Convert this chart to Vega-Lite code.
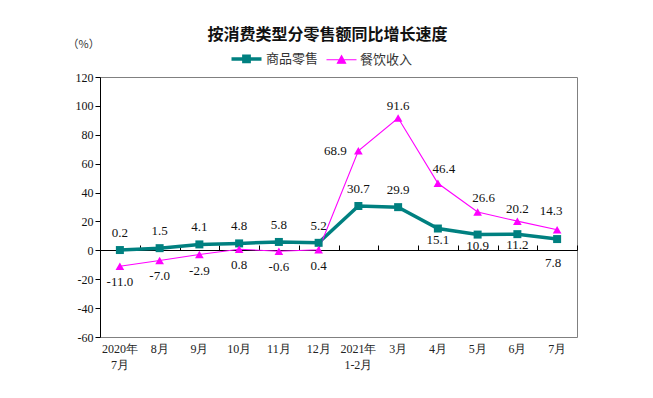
{
  "$schema": "https://vega.github.io/schema/vega-lite/v6.json",
  "width": 477,
  "height": 260,
  "autosize": {"type": "none"},
  "padding": {"left": 100, "top": 77, "right": 76, "bottom": 61},
  "background": "white",
  "config": {
    "view": {"stroke": "#808080", "strokeWidth": 1},
    "locale": {"number": {"decimal": ".", "thousands": ",", "grouping": [3], "currency": ["", ""], "minus": "-"}},
    "text": {"font": "Liberation Serif"}
  },
  "title": {
    "text": "按消费类型分零售额同比增长速度",
    "font": "Noto Sans CJK SC",
    "fontSize": 16,
    "fontWeight": "bold",
    "color": "#111",
    "anchor": "middle",
    "dx": -11,
    "offset": -5
  },
  "data": {
    "values": [
      {"m": "2020年|7月", "s": "商品零售", "v": 0.2},
      {"m": "8月", "s": "商品零售", "v": 1.5},
      {"m": "9月", "s": "商品零售", "v": 4.1},
      {"m": "10月", "s": "商品零售", "v": 4.8},
      {"m": "11月", "s": "商品零售", "v": 5.8},
      {"m": "12月", "s": "商品零售", "v": 5.2},
      {"m": "2021年|1-2月", "s": "商品零售", "v": 30.7},
      {"m": "3月", "s": "商品零售", "v": 29.9},
      {"m": "4月", "s": "商品零售", "v": 15.1},
      {"m": "5月", "s": "商品零售", "v": 10.9},
      {"m": "6月", "s": "商品零售", "v": 11.2},
      {"m": "7月", "s": "商品零售", "v": 7.8},
      {"m": "2020年|7月", "s": "餐饮收入", "v": -11.0},
      {"m": "8月", "s": "餐饮收入", "v": -7.0},
      {"m": "9月", "s": "餐饮收入", "v": -2.9},
      {"m": "10月", "s": "餐饮收入", "v": 0.8},
      {"m": "11月", "s": "餐饮收入", "v": -0.6},
      {"m": "12月", "s": "餐饮收入", "v": 0.4},
      {"m": "2021年|1-2月", "s": "餐饮收入", "v": 68.9},
      {"m": "3月", "s": "餐饮收入", "v": 91.6},
      {"m": "4月", "s": "餐饮收入", "v": 46.4},
      {"m": "5月", "s": "餐饮收入", "v": 26.6},
      {"m": "6月", "s": "餐饮收入", "v": 20.2},
      {"m": "7月", "s": "餐饮收入", "v": 14.3}
    ]
  },
  "encoding": {
    "x": {
      "field": "m",
      "type": "nominal",
      "sort": null,
      "scale": {"domain": ["2020年|7月", "8月", "9月", "10月", "11月", "12月", "2021年|1-2月", "3月", "4月", "5月", "6月", "7月"], "paddingInner": 0, "paddingOuter": 0}
    },
    "y": {
      "field": "v",
      "type": "quantitative",
      "scale": {"domain": [-60, 120], "nice": false, "zero": false},
      "axis": {
        "values": [-60, -40, -20, 0, 20, 40, 60, 80, 100, 120],
        "grid": false,
        "domainColor": "#000",
        "tickColor": "#000",
        "tickSize": 5,
        "labelPadding": 2,
        "labelFont": "Liberation Serif",
        "labelFontSize": 12,
        "labelColor": "#111",
        "title": "（%）",
        "titleAngle": 0,
        "titleAlign": "left",
        "titleBaseline": "middle",
        "titleX": -33,
        "titleY": -33,
        "titleFont": "Noto Sans CJK SC",
        "titleFontSize": 11,
        "titleFontWeight": "normal",
        "titleColor": "#333"
      }
    }
  },
  "resolve": {"axis": {"x": "independent"}},
  "layer": [
    {
      "mark": {"type": "line"},
      "encoding": {
        "x": {
          "field": "m", "type": "nominal", "sort": null,
          "axis": {
            "orient": "bottom",
            "title": null,
            "labelAngle": 0,
            "labelExpr": "split(datum.value, '|')",
            "ticks": false,
            "domain": false,
            "labelPadding": 6,
            "labelBaseline": "top",
            "labelLineHeight": 16,
            "labelFont": "Liberation Serif",
            "labelFontSize": 12,
            "labelColor": "#222"
          }
        },
        "color": {
          "field": "s", "type": "nominal",
          "scale": {"domain": ["商品零售", "餐饮收入"], "range": ["#008080", "#ff00ff"]},
          "legend": {
            "orient": "none",
            "legendX": 137,
            "legendY": -28,
            "direction": "horizontal",
            "title": null,
            "symbolSize": 225,
            "labelOffset": 10,
            "columnPadding": 5,
            "padding": 0,
            "labelFont": "Noto Sans CJK SC",
            "labelFontSize": 13,
            "labelColor": "#333",
            "encode": {
              "symbols": {
                "update": {
                  "shape": {"signal": "datum.value === '商品零售' ? 'M-2,0L2,0M-0.35,-0.35L0.35,-0.35L0.35,0.35L-0.35,0.35Z' : 'M-2,0L2,0M0,-0.55L0.55,0.45L-0.55,0.45Z'"},
                  "stroke": {"signal": "datum.value === '商品零售' ? '#008080' : '#ff00ff'"},
                  "fill": {"signal": "datum.value === '商品零售' ? '#008080' : '#ff00ff'"},
                  "strokeWidth": {"signal": "datum.value === '商品零售' ? 3 : 1"},
                  "strokeOpacity": {"value": 1},
                  "fillOpacity": {"value": 1},
                  "opacity": {"value": 1}
                }
              }
            }
          }
        },
        "strokeWidth": {
          "field": "s", "type": "nominal",
          "scale": {"domain": ["商品零售", "餐饮收入"], "range": [3.5, 1.1]},
          "legend": null
        }
      }
    },
    {
      "transform": [{"filter": {"field": "s", "equal": "商品零售"}}],
      "mark": {"type": "point", "shape": "square", "filled": true, "opacity": 1, "color": "#008080", "size": 64},
      "encoding": {
        "x": {
          "field": "m", "type": "nominal", "sort": null,
          "axis": {
            "orient": "top",
            "offset": -173,
            "title": null,
            "labels": false,
            "ticks": true,
            "tickBand": "extent",
            "tickSize": 5,
            "tickColor": "#000",
            "domainColor": "#000"
          }
        }
      }
    },
    {
      "transform": [{"filter": {"field": "s", "equal": "餐饮收入"}}],
      "mark": {"type": "point", "shape": "triangle-up", "filled": true, "opacity": 1, "color": "#ff00ff", "size": 75},
      "encoding": {"x": {"field": "m", "type": "nominal", "sort": null, "axis": null}}
    },
    {
      "transform": [{"filter": {"and": [{"field": "s", "equal": "商品零售"}, {"field": "m", "oneOf": ["2020年|7月", "8月", "9月", "10月", "11月", "12月", "2021年|1-2月", "3月"]}]}}],
      "mark": {"type": "text", "dy": -17, "fontSize": 13, "color": "#111"},
      "encoding": {"x": {"field": "m", "type": "nominal", "sort": null, "axis": null}, "text": {"field": "v", "format": ".1f"}}
    },
    {
      "transform": [{"filter": {"and": [{"field": "s", "equal": "商品零售"}, {"field": "m", "oneOf": ["4月", "5月", "6月"]}]}}],
      "mark": {"type": "text", "dy": 11, "fontSize": 13, "color": "#111"},
      "encoding": {"x": {"field": "m", "type": "nominal", "sort": null, "axis": null}, "text": {"field": "v", "format": ".1f"}}
    },
    {
      "transform": [{"filter": {"and": [{"field": "s", "equal": "商品零售"}, {"field": "m", "equal": "7月"}]}}],
      "mark": {"type": "text", "dy": 24, "dx": -4, "fontSize": 13, "color": "#111"},
      "encoding": {"x": {"field": "m", "type": "nominal", "sort": null, "axis": null}, "text": {"field": "v", "format": ".1f"}}
    },
    {
      "transform": [{"filter": {"and": [{"field": "s", "equal": "餐饮收入"}, {"field": "m", "oneOf": ["2020年|7月", "8月", "9月", "10月", "11月", "12月"]}]}}],
      "mark": {"type": "text", "dy": 16, "fontSize": 13, "color": "#111"},
      "encoding": {"x": {"field": "m", "type": "nominal", "sort": null, "axis": null}, "text": {"field": "v", "format": ".1f"}}
    },
    {
      "transform": [{"filter": {"and": [{"field": "s", "equal": "餐饮收入"}, {"field": "m", "equal": "2021年|1-2月"}]}}],
      "mark": {"type": "text", "dx": -23, "dy": 0, "fontSize": 13, "color": "#111"},
      "encoding": {"x": {"field": "m", "type": "nominal", "sort": null, "axis": null}, "text": {"field": "v", "format": ".1f"}}
    },
    {
      "transform": [{"filter": {"and": [{"field": "s", "equal": "餐饮收入"}, {"field": "m", "oneOf": ["3月", "6月"]}]}}],
      "mark": {"type": "text", "dy": -12, "fontSize": 13, "color": "#111"},
      "encoding": {"x": {"field": "m", "type": "nominal", "sort": null, "axis": null}, "text": {"field": "v", "format": ".1f"}}
    },
    {
      "transform": [{"filter": {"and": [{"field": "s", "equal": "餐饮收入"}, {"field": "m", "oneOf": ["4月", "5月"]}]}}],
      "mark": {"type": "text", "dx": 6, "dy": -14, "fontSize": 13, "color": "#111"},
      "encoding": {"x": {"field": "m", "type": "nominal", "sort": null, "axis": null}, "text": {"field": "v", "format": ".1f"}}
    },
    {
      "transform": [{"filter": {"and": [{"field": "s", "equal": "餐饮收入"}, {"field": "m", "equal": "7月"}]}}],
      "mark": {"type": "text", "dx": -6, "dy": -19, "fontSize": 13, "color": "#111"},
      "encoding": {"x": {"field": "m", "type": "nominal", "sort": null, "axis": null}, "text": {"field": "v", "format": ".1f"}}
    }
  ]
}
